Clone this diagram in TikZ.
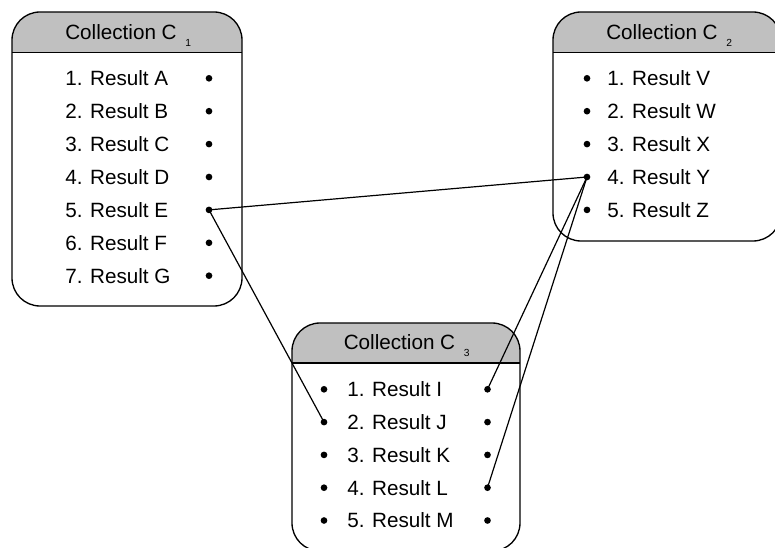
\documentclass[tikz,border=0pt]{standalone}
\usepackage{fontspec}
\setmainfont{Liberation Sans}
\definecolor{headgray}{RGB}{192,192,192}
\tikzset{
  item/.style={anchor=base west, inner sep=0pt, font=\fontsize{15.5}{18}\selectfont},
  dot/.style={circle, fill=black, inner sep=0pt, minimum size=5pt},
  frame/.style={line width=1pt, rounded corners=21pt}
}
\newcommand{\subidx}[1]{\hspace{6.5pt}\raisebox{-5.5pt}{\fontsize{7.7}{9}\selectfont #1}}
\begin{document}
\begin{tikzpicture}[x=0.75pt, y=-0.75pt]

  \useasboundingbox (0,0) rectangle (775,548);
  \clip (0,0) rectangle (775,548);

  % Cadres des collections
  \foreach \xa/\ya/\xb/\yb/\ys in {12/12/242/306/52.5, 553/12/781/241/52.5, 292/323/520/551/363} {
    \begin{scope}
      \clip[rounded corners=21pt] (\xa,\ya) rectangle (\xb,\yb);
      \fill[headgray] (\xa,\ya) rectangle (\xb,\ys);
    \end{scope}
    \draw[frame] (\xa,\ya) rectangle (\xb,\yb);
    \draw[line width=1pt] (\xa,\ys) -- (\xb,\ys);
  }

  % Titres
  \node[item] (t1) at (65,39.3) {Collection C\subidx{1}};
  \node[item] (t2) at (606,39.3) {Collection C\subidx{2}};
  \node[item] (t3) at (343.5,349.3) {Collection C\subidx{3}};

  % Collection C1
  \foreach \t [count=\i] in {A,B,C,D,E,F,G} {
    \node[item] (a\i) at (65,53+32.9*\i) {\i. Result \t};
    \node[dot] (a\i-r) at (209,45.4+32.9*\i) {};
  }

  % Collection C2
  \foreach \t [count=\i] in {V,W,X,Y,Z} {
    \node[item] (b\i) at (607,53+32.9*\i) {\i. Result \t};
    \node[dot] (b\i-l) at (587,45.4+32.9*\i) {};
  }

  % Collection C3
  \foreach \t [count=\i] in {I,J,K,L,M} {
    \node[item] (c\i) at (347,364+32.8*\i) {\i. Result \t};
    \node[dot] (c\i-l) at (324,356.5+32.8*\i) {};
    \node[dot] (c\i-r) at (487.5,356.5+32.8*\i) {};
  }

  % Liens
  \draw[line width=0.9pt] (a5-r.center) -- (b4-l.center);
  \draw[line width=0.9pt] (a5-r.center) -- (c2-l.center);
  \draw[line width=0.9pt] (b4-l.center) -- (c1-r.center);
  \draw[line width=0.9pt] (b4-l.center) -- (c4-r.center);

\end{tikzpicture}
\end{document}
